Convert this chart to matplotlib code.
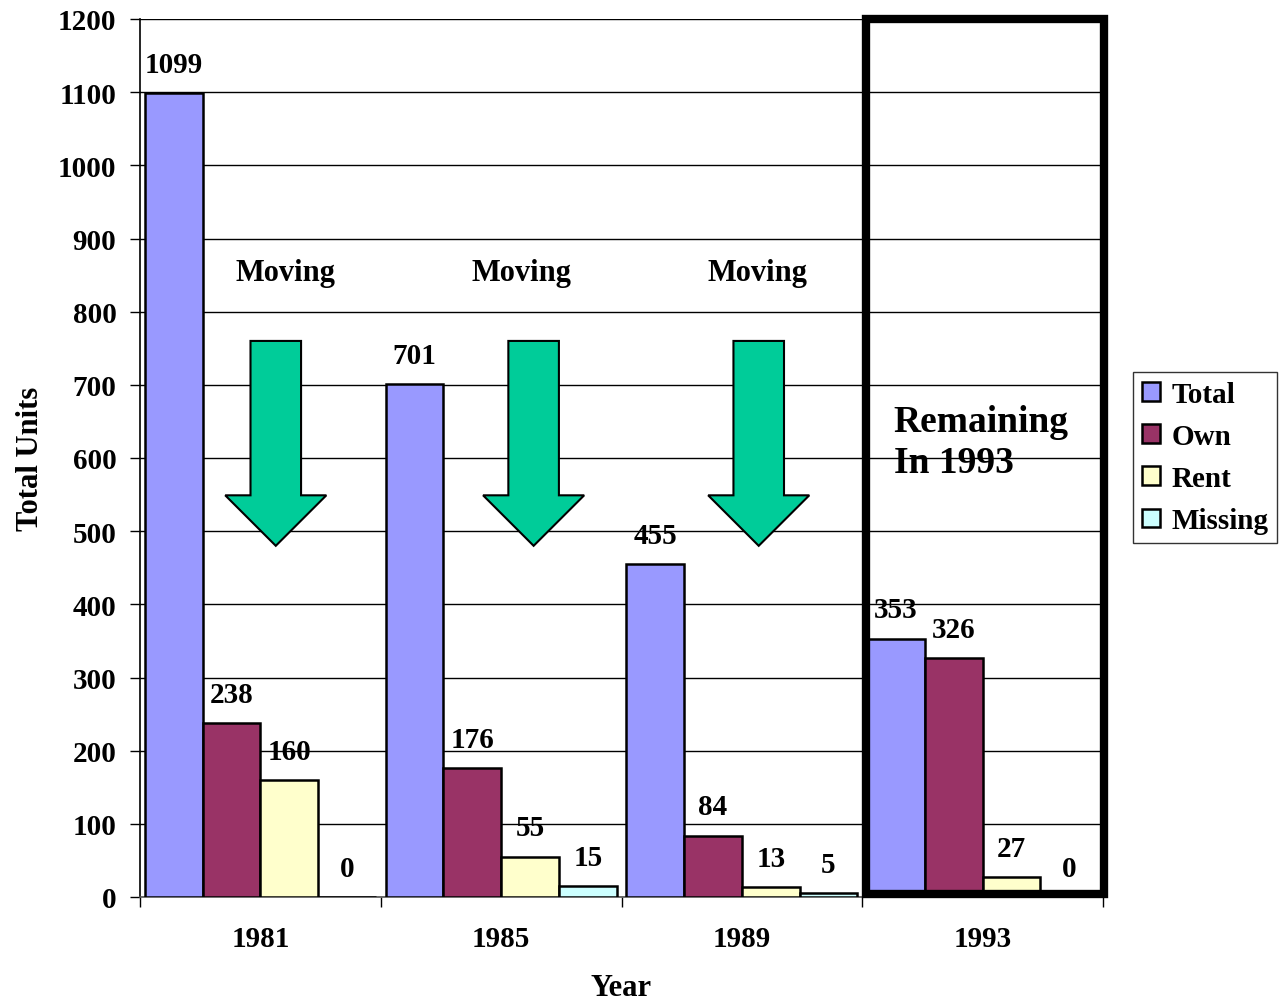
import matplotlib
matplotlib.use("Agg")
import matplotlib.pyplot as plt
from matplotlib.patches import Rectangle, Polygon
import numpy as np

years = ["1981", "1985", "1989", "1993"]
series = ["Total", "Own", "Rent", "Missing"]
total = [1099, 701, 455, 353]
own = [238, 176, 84, 326]
rent = [160, 55, 13, 27]
missing = [0, 15, 5, 0]
colors = ["#9999FF", "#993366", "#FFFFCC", "#CCFFFF"]
yticks = list(range(0, 1201, 100))

plt.rcParams['font.family'] = ['Liberation Serif', 'DejaVu Serif']
plt.rcParams['font.weight'] = 'bold'

fig = plt.figure(figsize=(12.86, 10.03), dpi=100)
ax = fig.add_axes([140/1286, 1-898/1003, 963/1286, 878/1003])

x = np.arange(len(years))
w = 0.24
data = [total, own, rent, missing]
handles = []
for j, (name, vals, c) in enumerate(zip(series, data, colors)):
    pos = x + (j - 1.5) * w
    b = ax.bar(pos, vals, width=w, color=c, edgecolor='black', linewidth=1.8,
               label=name, zorder=3)
    handles.append(b)
    for p, v in zip(pos, vals):
        ax.annotate(str(v), (p, v), xytext=(0, 11), textcoords='offset points',
                    ha='center', va='bottom', fontsize=21, fontweight='bold')

ax.set_xlim(-0.5, 3.5)
ax.set_ylim(0, 1200)
ax.set_yticks(yticks)
ax.set_yticklabels([str(t) for t in yticks], fontsize=21, fontweight='bold')
ax.set_xticks(x)
ax.set_xticklabels(years, fontsize=21, fontweight='bold')
ax.set_xticks(np.arange(-0.5, 3.6, 1.0), minor=True)
ax.tick_params(axis='x', which='major', length=0, pad=20)
ax.tick_params(axis='x', which='minor', length=7, width=1, direction='out')
ax.tick_params(axis='y', which='major', length=7, width=1, direction='out', pad=10)
ax.yaxis.grid(True, color='black', linewidth=1.0, zorder=0)
ax.set_axisbelow(True)
for s in ['top', 'right']:
    ax.spines[s].set_visible(False)
ax.spines['left'].set_linewidth(1.2)
ax.spines['bottom'].set_linewidth(1.2)
ax.spines['bottom'].set_color('#555555')

ax.set_ylabel("Total Units", fontsize=22, fontweight='bold', labelpad=9)
ax.set_xlabel("Year", fontsize=22, fontweight='bold', labelpad=15)

# "Moving" labels and arrows
arrow_x = [0.064, 1.135, 2.07]
text_x = [0.106, 1.085, 2.064]
for ax_c, tx in zip(arrow_x, text_x):
    ax.text(tx, 854, "Moving", ha='center', va='center', fontsize=22, fontweight='bold')
    sw, hw = 0.105, 0.21
    pts = [(ax_c - sw, 760), (ax_c + sw, 760), (ax_c + sw, 549), (ax_c + hw, 549),
           (ax_c, 480), (ax_c - hw, 549), (ax_c - sw, 549)]
    ax.add_patch(Polygon(pts, closed=True, facecolor='#00CC99', edgecolor='black',
                         linewidth=1.5, zorder=4))

# Highlight box for 1993
ax.add_patch(Rectangle((2.516, 4), 0.988, 1196, fill=False, edgecolor='black',
                       linewidth=6, zorder=5, clip_on=False))
ax.text(2.63, 622, "Remaining\nIn 1993", ha='left', va='center', fontsize=27,
        fontweight='bold', linespacing=1.25)

leg = fig.legend(handles=handles, labels=series, loc='upper left',
                 bbox_to_anchor=(1133/1286, 1-373/1003), fontsize=21,
                 frameon=True, fancybox=False, edgecolor='black', borderpad=0.3,
                 handlelength=0.62, handleheight=0.62, handletextpad=0.4,
                 labelspacing=0.52, borderaxespad=0)
leg.get_frame().set_linewidth(1.0)
for h in leg.legend_handles:
    h.set_linewidth(1.8)

fig.savefig("out.png", dpi=100)
